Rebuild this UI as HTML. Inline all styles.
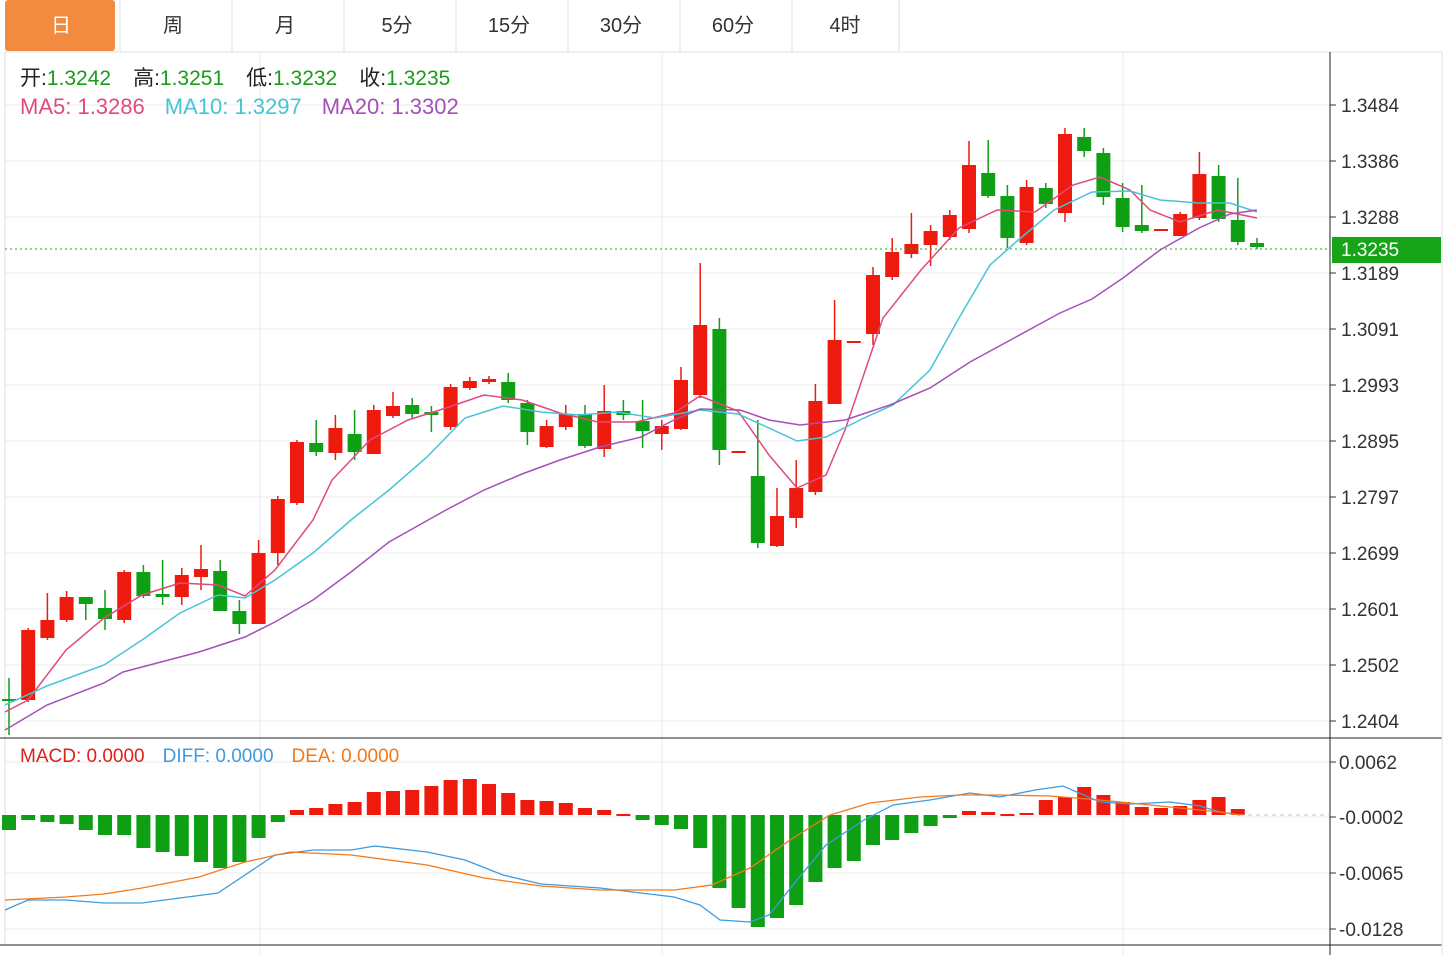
<!DOCTYPE html>
<html><head><meta charset="utf-8"><style>
body{margin:0;background:#fff;width:1455px;height:955px;overflow:hidden;font-family:"Liberation Sans","Noto Sans CJK SC",sans-serif}
svg{position:absolute;left:0;top:0}
</style></head><body>
<svg id="s" width="1455" height="955" xmlns="http://www.w3.org/2000/svg" font-family="Liberation Sans, Noto Sans CJK SC, sans-serif"></svg>
<script>
var s=document.getElementById('s'),h='';
function L(x1,y1,x2,y2,c,w,extra){h+='<line x1="'+x1+'" y1="'+y1+'" x2="'+x2+'" y2="'+y2+'" stroke="'+c+'" stroke-width="'+(w||1)+'" '+(extra||'')+'/>';}
function R(x,y,w,hh,c){h+='<rect x="'+x+'" y="'+y+'" width="'+w+'" height="'+hh+'" fill="'+c+'"/>';}
function T(x,y,t,c,sz,a){h+='<text x="'+x+'" y="'+y+'" fill="'+c+'" font-size="'+(sz||17)+'" '+(a||'')+'>'+t+'</text>';}
function P(pts,c,w){h+='<polyline fill="none" stroke="'+c+'" stroke-width="'+(w||1.5)+'" points="'+pts.map(function(p){return p.join(',')}).join(' ')+'"/>';}
var tabs=['日','周','月','5分','15分','30分','60分','4时'];
for(var i=0;i<8;i++){var x=5+i*112;
 if(i==0){h+='<rect x="5" y="0" width="110" height="51" rx="3" fill="#f28a3f"/>';}
 else L(x+3,0,x+3,51,'#ddd');
 T(x+56,32,tabs[i],i==0?'#fff':'#333',20,'text-anchor="middle"');}
L(899,0,899,51,'#ddd');
L(5,52,1442,52,'#e3e3e3');
var gy=[105,161,217,273,329,385,441,497,553,609,665,721],gl=['1.3484','1.3386','1.3288','1.3189','1.3091','1.2993','1.2895','1.2797','1.2699','1.2601','1.2502','1.2404'];
gy.forEach(function(y,i){L(5,y,1330,y,'#ebebeb');L(1330,y,1336,y,'#333');T(1341,y+7,gl[i],'#333',19);});
var my=[762,817,873,929],ml=['0.0062','-0.0002','-0.0065','-0.0128'];
my.forEach(function(y,i){L(5,y,1330,y,'#ebebeb');L(1330,y,1336,y,'#333');T(1339,y+7,ml[i],'#333',19);});
[260,662,1123].forEach(function(x){L(x,52,x,955,'#e6ecf2');});
L(5,52,5,945,'#ddd');
L(0,738,1442,738,'#222');L(0,945,1442,945,'#222');L(1330,52,1330,955,'#222');L(1442,52,1442,955,'#e3e3e3');
var C=[[700,700,678,735],[700,630,628,702],[638,620,593,640],[620,597,591,622],[597,604,597,620],[608,619,590,630],[620,572,570,623],[572,596,565,598],[595,596,560,605],[597,575,568,605],[577,569,545,590],[571,611,560,611],[611,624,600,634],[624,553,540,624],[553,499,496,565],[503,442,440,505],[443,452,420,456],[453,428,415,460],[434,452,410,460],[454,410,405,454],[416,406,392,418],[405,414,398,418],[413,414,406,432],[427,387,384,430],[388,381,377,390],[382,379,376,384],[382,400,373,403],[403,432,400,445],[447,426,420,448],[427,414,405,430],[414,446,405,448],[449,411,385,457],[411,415,400,420],[421,431,400,448],[434,426,420,450],[429,380,367,430],[395,325,263,398],[329,450,318,465],[452,452,452,452],[476,543,420,548],[546,516,488,547],[518,488,460,528],[492,401,384,495],[404,340,300,404],[342,342,342,342],[334,275,267,345],[277,252,238,280],[254,244,213,258],[245,231,225,266],[237,215,210,240],[229,165,141,233],[173,196,140,198],[196,238,185,248],[243,187,180,245],[188,204,183,208],[213,134,128,222],[137,151,128,157],[153,197,148,205],[198,227,183,232],[225,231,185,233],[230,230,230,230],[236,214,212,235],[218,174,152,220],[176,219,165,222],[220,242,178,245],[243,247,238,249]];
var RED='#ee1a0e',GRN='#0e9f15';
C.forEach(function(c,i){var x=9+i*19.2,up=c[1]<c[0],col=up?RED:GRN;
 if(c[0]==c[1]&&i!=0&&i!=8&&i!=22)col=RED;
 L(x,c[2],x,c[3],col,1.5);
 var t=Math.min(c[0],c[1]),b=Math.max(c[0],c[1]);if(b-t<2){t-=1;b+=1;}
 R(x-7,t,14,b-t,col);});
P([[5,712],[28,700],[66,650],[104,618],[142,595],[180,583],[218,585],[245,596],[275,570],[313,520],[332,480],[370,440],[408,420],[446,408],[484,395],[522,400],[560,413],[598,422],[636,422],[674,413],[700,396],[738,411],[769,455],[797,488],[826,475],[845,430],[883,318],[921,270],[959,228],[997,210],[1035,212],[1073,185],[1100,177],[1130,190],[1150,210],[1180,222],[1218,210],[1257,218]],'#e04a7f');
P([[5,705],[47,686],[104,665],[142,640],[180,613],[218,595],[245,598],[275,580],[313,553],[351,520],[389,490],[427,457],[465,418],[503,406],[541,412],[579,415],[617,412],[655,418],[700,410],[738,414],[769,428],[797,441],[826,437],[864,418],[893,405],[930,370],[959,318],[990,265],[1016,242],[1054,210],[1092,192],[1130,191],[1160,200],[1199,203],[1230,203],[1257,212]],'#45c4d6');
P([[5,730],[47,705],[104,683],[123,672],[161,662],[199,652],[245,637],[275,622],[313,600],[351,572],[389,542],[446,510],[484,490],[522,474],[560,460],[600,447],[641,437],[674,420],[700,409],[740,410],[769,420],[800,425],[845,420],[890,405],[930,388],[970,362],[1016,337],[1060,313],[1092,299],[1123,278],[1160,250],[1199,228],[1230,214],[1257,210]],'#a450b8');
L(5,249,1330,249,'#1aa81a',1,'stroke-dasharray="2,3"');
R(1332,237,109,26,'#18a418');T(1341,256,'1.3235','#fff',19);
var M=[830,820,822,824,830,835,835,848,852,856,862,868,862,838,822,810,808,804,802,792,791,790,786,780,779,784,793,800,801,803,808,810,814,820,825,829,848,888,908,927,918,905,882,868,861,845,840,833,826,818,811,812,814,813,800,797,787,795,802,807,808,806,800,797,809,815];
var Z=815;
M.forEach(function(v,i){if(v==Z)return;var x=9+i*19.2,col=v<Z?RED:GRN;var t=Math.min(v,Z),b=Math.max(v,Z);if(b-t<2)b=t+2;R(x-7,t,14,b-t,col);});
L(1240,815,1330,815,'#9cc4e8',1,'stroke-dasharray="4,4"');
P([[5,910],[28,900],[66,900],[104,903],[142,903],[180,898],[218,893],[245,875],[275,855],[313,850],[351,850],[375,846],[427,852],[465,860],[503,875],[541,884],[600,888],[641,893],[674,897],[700,905],[720,920],[750,922],[769,915],[797,880],[826,845],[864,820],[893,805],[930,800],[970,793],[1000,797],[1035,790],[1063,786],[1100,802],[1130,804],[1170,802],[1200,806],[1220,812],[1240,815]],'#3d9be0',1.3);
P([[5,900],[66,897],[104,894],[142,888],[199,877],[245,862],[290,852],[351,855],[427,865],[484,878],[541,886],[600,890],[674,890],[712,885],[750,868],[790,840],[830,815],[870,803],[920,797],[960,795],[1000,795],[1050,796],[1100,800],[1160,806],[1220,812],[1240,815]],'#f27a1c',1.3);
h+='<text y="85" font-size="21"><tspan x="20" fill="#222">开:</tspan><tspan fill="#1a9c1a">1.3242</tspan><tspan dx="22" fill="#222">高:</tspan><tspan fill="#1a9c1a">1.3251</tspan><tspan dx="22" fill="#222">低:</tspan><tspan fill="#1a9c1a">1.3232</tspan><tspan dx="22" fill="#222">收:</tspan><tspan fill="#1a9c1a">1.3235</tspan></text>';
h+='<text y="114" font-size="22"><tspan x="20" fill="#e04a7f">MA5: 1.3286</tspan><tspan dx="20" fill="#45c4d6">MA10: 1.3297</tspan><tspan dx="20" fill="#a450b8">MA20: 1.3302</tspan></text>';
h+='<text y="762" font-size="19"><tspan x="20" fill="#e0201a">MACD: 0.0000</tspan><tspan dx="18" fill="#3d9be0">DIFF: 0.0000</tspan><tspan dx="18" fill="#f27a1c">DEA: 0.0000</tspan></text>';
s.innerHTML=h;
</script>
</body></html>
